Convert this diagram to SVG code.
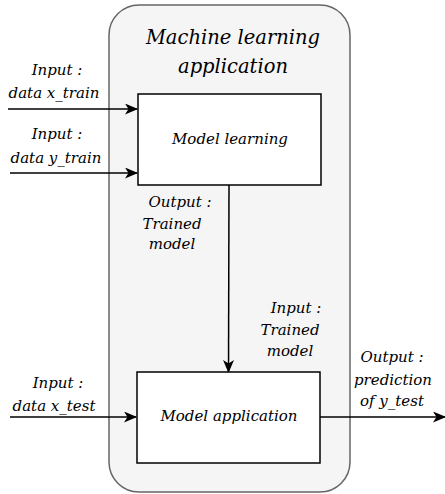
<svg xmlns="http://www.w3.org/2000/svg" width="445" height="494" viewBox="0 0 445 494">
  <style>
    text { font-family: "DejaVu Serif", "Liberation Serif", serif; font-style: italic; fill: #000; text-anchor: middle; }
    .lbl { font-size: 15px; }
    .title { font-size: 19.5px; }
    .box { fill: #fff; stroke: #000; stroke-width: 1.5; }
    .edge { fill: none; stroke: #000; stroke-width: 1.5; }
  </style>
  <defs>
    <marker id="arrow" viewBox="0 0 13 11" refX="12" refY="5.5" markerWidth="13" markerHeight="11" markerUnits="userSpaceOnUse" orient="auto">
      <path d="M0,0 L13,5.5 L0,11 L3.5,5.5 Z" fill="#000"/>
    </marker>
  </defs>

  <g id="container">
    <rect x="109" y="5" width="241" height="487" rx="30" ry="30" fill="#f5f5f5" stroke="#666" stroke-width="1.5"/>
    <text class="title" x="233" y="44">Machine learning</text>
    <text class="title" x="233" y="73">application</text>
  </g>

  <g id="connectors">
    <path class="edge" d="M8,109 L137,109" marker-end="url(#arrow)"/>
    <path class="edge" d="M10,173 L137,173" marker-end="url(#arrow)"/>
    <path class="edge" d="M229,185 L228.5,372" marker-end="url(#arrow)"/>
    <path class="edge" d="M10,417 L136,417" marker-end="url(#arrow)"/>
    <path class="edge" d="M320,417 L445,417" marker-end="url(#arrow)"/>
  </g>

  <g id="model-learning">
    <rect class="box" x="138" y="94" width="183" height="91"/>
    <text class="lbl" x="230" y="144">Model learning</text>
  </g>

  <g id="model-application">
    <rect class="box" x="137" y="372" width="183" height="91"/>
    <text class="lbl" x="229" y="421">Model application</text>
  </g>

  <g id="labels">
    <text class="lbl" x="57" y="75">Input :</text>
    <text class="lbl" x="54" y="98">data x_train</text>
    <text class="lbl" x="57" y="139">Input :</text>
    <text class="lbl" x="56" y="163">data y_train</text>
    <text class="lbl" x="180" y="207">Output :</text>
    <text class="lbl" x="172" y="229">Trained</text>
    <text class="lbl" x="172" y="249">model</text>
    <text class="lbl" x="296" y="313">Input :</text>
    <text class="lbl" x="290" y="335">Trained</text>
    <text class="lbl" x="290" y="356">model</text>
    <text class="lbl" x="58" y="388">Input :</text>
    <text class="lbl" x="54" y="411">data x_test</text>
    <text class="lbl" x="392" y="362">Output :</text>
    <text class="lbl" x="393" y="385">prediction</text>
    <text class="lbl" x="392" y="406">of y_test</text>
  </g>
</svg>
